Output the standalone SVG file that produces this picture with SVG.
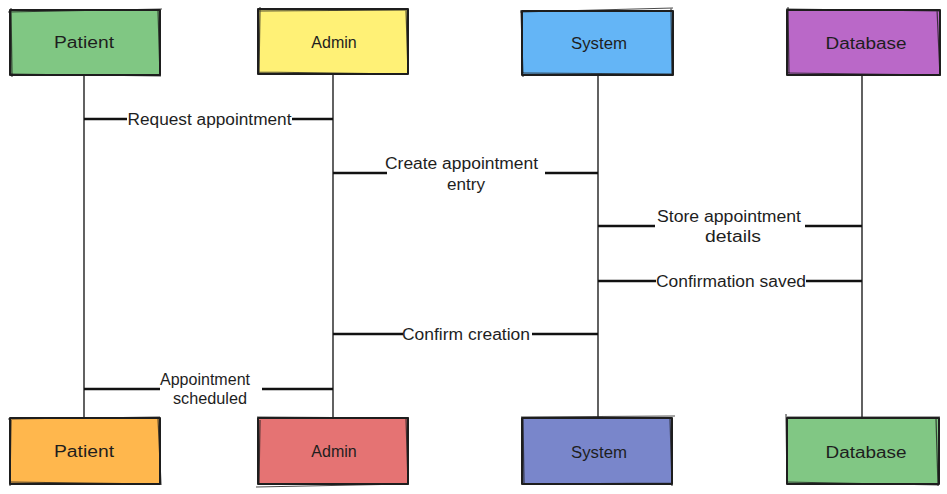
<svg xmlns="http://www.w3.org/2000/svg" width="947" height="494" viewBox="0 0 947 494">
<style>
.box{stroke:#1e1e1e;stroke-width:2;stroke-linejoin:round}
.sk{fill:none;stroke:#1e1e1e;stroke-width:1.2;opacity:0.8}
.life{stroke:#3a3a3a;stroke-width:1.6;fill:none}
.msg{stroke:#111;stroke-width:2.6;fill:none}
.lbl{font-family:"Liberation Sans","DejaVu Sans",sans-serif;font-size:16px;fill:#1e1e1e;text-anchor:middle;dominant-baseline:central}
.ml{font-family:"Liberation Sans","DejaVu Sans",sans-serif;font-size:16px;fill:#1e1e1e;text-anchor:middle;dominant-baseline:central}
</style>
<rect width="947" height="494" fill="#ffffff"/>
<g id="lifelines">
<line class="life" x1="84" y1="75" x2="84" y2="418"/>
<line class="life" x1="333" y1="74" x2="333" y2="418"/>
<line class="life" x1="598" y1="75" x2="598" y2="417"/>
<line class="life" x1="862" y1="75" x2="862" y2="417"/>
</g>
<g id="connectors">
<path class="msg" d="M84 119H127M292 119H333"/>
<path class="msg" d="M333 173H387M545 173H598"/>
<path class="msg" d="M598 226H655M805 226H862"/>
<path class="msg" d="M598 281H656M806 281H862"/>
<path class="msg" d="M333 334H403M532 334H598"/>
<path class="msg" d="M84 389H160M262 389H333"/>
</g>
<g id="message-labels">
<text class="ml" x="209.5" y="119" textLength="164" lengthAdjust="spacingAndGlyphs">Request appointment</text>
<text class="ml" x="461.5" y="163" textLength="153" lengthAdjust="spacingAndGlyphs">Create appointment</text>
<text class="ml" x="466" y="184" textLength="38" lengthAdjust="spacingAndGlyphs">entry</text>
<text class="ml" x="729" y="216" textLength="144" lengthAdjust="spacingAndGlyphs">Store appointment</text>
<text class="ml" x="733" y="236" textLength="56" lengthAdjust="spacingAndGlyphs">details</text>
<text class="ml" x="731" y="281" textLength="150" lengthAdjust="spacingAndGlyphs">Confirmation saved</text>
<text class="ml" x="466" y="334" textLength="128" lengthAdjust="spacingAndGlyphs">Confirm creation</text>
<text class="ml" x="205" y="379" textLength="90" lengthAdjust="spacingAndGlyphs">Appointment</text>
<text class="ml" x="210" y="398" textLength="74" lengthAdjust="spacingAndGlyphs">scheduled</text>
</g>
<g id="patient-top">
<rect class="box" x="10" y="10" width="150" height="65" fill="#80c783"/>
<path class="sk" d="M8 12L162 9M11 8L12 77M158 10L160 76M9 74L161 76"/>
<text class="lbl" x="84" y="42" textLength="60" lengthAdjust="spacingAndGlyphs">Patient</text>
</g>
<g id="admin-top">
<rect class="box" x="258" y="9" width="150" height="65" fill="#fff176"/>
<path class="sk" d="M257 11L409 10M260 7L259 75M406 9L408 74M259 72L407 74"/>
<text class="lbl" x="334" y="42">Admin</text>
</g>
<g id="system-top">
<rect class="box" x="522" y="11" width="151" height="64" fill="#64b5f6"/>
<path class="sk" d="M520 12L673 8M521 10L523 77M671 8L672 75M521 73L672 74"/>
<text class="lbl" x="599" y="43" textLength="56" lengthAdjust="spacingAndGlyphs">System</text>
</g>
<g id="database-top">
<rect class="box" x="787" y="10" width="153" height="65" fill="#ba68c8"/>
<path class="sk" d="M786 9L940 11M788 7L789 75M937 9L940 76M788 73L940 75"/>
<text class="lbl" x="866" y="43" textLength="81" lengthAdjust="spacingAndGlyphs">Database</text>
</g>
<g id="patient-bottom">
<rect class="box" x="10" y="418" width="150" height="66" fill="#ffb74d"/>
<path class="sk" d="M8 419L160 417M11 420L10 486M158 418L161 485M9 482L161 484"/>
<text class="lbl" x="84" y="451" textLength="60" lengthAdjust="spacingAndGlyphs">Patient</text>
</g>
<g id="admin-bottom">
<rect class="box" x="258" y="418" width="150" height="66" fill="#e57373"/>
<path class="sk" d="M257 417L409 418M260 420L259 484M406 418L408 485M256 487L407 484"/>
<text class="lbl" x="334" y="451">Admin</text>
</g>
<g id="system-bottom">
<rect class="box" x="522" y="418" width="150" height="66" fill="#7986cb"/>
<path class="sk" d="M521 417L675 416M523 419L524 485M670 418L672 486M522 484L672 483"/>
<text class="lbl" x="599" y="452" textLength="56" lengthAdjust="spacingAndGlyphs">System</text>
</g>
<g id="database-bottom">
<rect class="box" x="787" y="418" width="152" height="66" fill="#81c784"/>
<path class="sk" d="M787 417L940 417M786 414L787 483M936 418L938 486M786 482L939 485"/>
<text class="lbl" x="866" y="452" textLength="81" lengthAdjust="spacingAndGlyphs">Database</text>
</g>
</svg>
